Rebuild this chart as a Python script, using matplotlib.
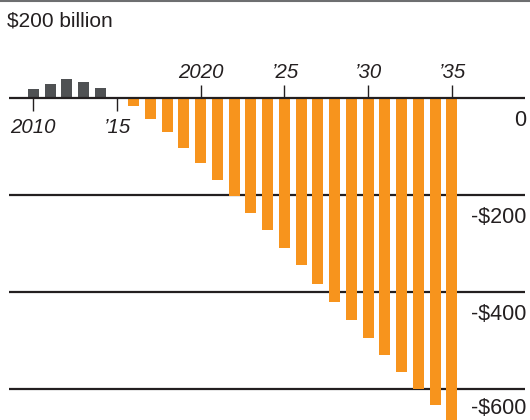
import matplotlib.pyplot as plt
import numpy as np

# Data (billions of dollars)
hist_years = [2010, 2011, 2012, 2013, 2014]
hist_values = [18, 28, 38, 33, 20]

proj_years = list(range(2016, 2036))
proj_values = [-18, -43, -70, -103, -134, -169, -202, -237, -272, -309,
               -344, -383, -420, -457, -494, -531, -566, -601, -632, -670]

grid_values = [0, -200, -400, -600]
grid_labels = ['0', '-$200', '-$400', '-$600']

tick_years = [2010, 2015, 2020, 2025, 2030, 2035]
tick_labels = ['2010', '\u201915', '2020', '\u201925', '\u201930', '\u201935']

orange = '#f7941d'
gray = '#4f5153'
dark = '#231f20'

plt.rcParams['font.family'] = ['Liberation Sans', 'DejaVu Sans']

fig = plt.figure(figsize=(5.3, 4.2), dpi=100)
ax = fig.add_axes([0, 0, 1, 1])
ax.axis('off')

px = 16.74  # pixels per year
x0 = 2010 - 33.3 / px
x1 = 2010 + (530 - 33.3) / px
ax.set_xlim(x0, x1)
ax.set_ylim(-663.9, 201.2)

gl_left = 2010 - (33.3 - 9) / px
gl_right = 2010 + (525 - 33.3) / px

# top rule (+200)
ax.hlines(200, x0, x1, color='#6d6e70', linewidth=1.5, zorder=1)
ax.text(gl_left - 0.12, 158, '$200 billion', fontsize=15, ha='left', va='center', color=dark)

# gridlines
for v in grid_values[1:]:
    ax.hlines(v, gl_left, gl_right, color=dark, linewidth=1.6, zorder=1)

# bars
w = 11 / px
ax.bar(hist_years, hist_values, width=w, color=gray, zorder=2)
ax.bar(proj_years, proj_values, width=w, color=orange, zorder=2)

# zero line on top
ax.hlines(0, gl_left, gl_right, color=dark, linewidth=1.6, zorder=3)

# right-side value labels
for v, lab in zip(grid_values, grid_labels):
    off = 46 if v > -600 else 41
    ax.text(gl_right + 0.1, v - off, lab, fontsize=15.5, ha='right', va='center', color=dark)

# year ticks and labels
for yr, lab in zip(tick_years, tick_labels):
    if yr < 2016:
        ax.vlines(yr, -28, 0, color=dark, linewidth=1, zorder=3)
        ax.text(yr, -61, lab, fontsize=14.7, style='italic', ha='center', va='center', color=dark)
    else:
        ax.vlines(yr, 0, 27, color=dark, linewidth=1, zorder=3)
        ax.text(yr, 52, lab, fontsize=14.7, style='italic', ha='center', va='center', color=dark)

fig.savefig('out.png', dpi=100)
